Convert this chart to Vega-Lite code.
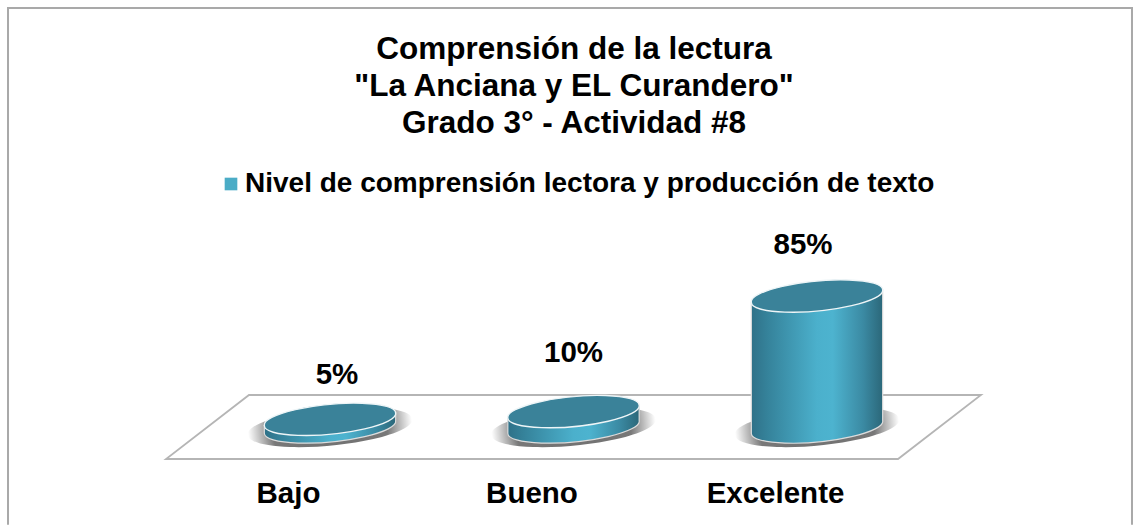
{
"$schema":"https://vega.github.io/schema/vega-lite/v6.json",
"width":1140,"height":525,"padding":0,"autosize":"none","background":"white",
"config":{"view":{"stroke":null},"font":"Liberation Sans"},
"title":{"text":["Comprensión de la lectura","\"La Anciana y EL Curandero\"","Grado 3° - Actividad #8"],"anchor":"middle","frame":"group","font":"Liberation Sans","fontSize":31.5,"fontWeight":"bold","color":"#000000","lineHeight":37,"dx":4,"dy":139,"offset":0},
"data":{"values":[
{"nivel":"Bajo","porcentaje":5,"etiqueta":"5%","serie":"Nivel de comprensión lectora y producción de texto"},
{"nivel":"Bueno","porcentaje":10,"etiqueta":"10%","serie":"Nivel de comprensión lectora y producción de texto"},
{"nivel":"Excelente","porcentaje":85,"etiqueta":"85%","serie":"Nivel de comprensión lectora y producción de texto"}
]},
"encoding":{
"x":{"field":"nivel","type":"nominal","sort":null,"scale":{"type":"point","domain":["Bajo","Bueno","Excelente"],"range":[330,817],"padding":0},
"axis":{"title":null,"domain":false,"ticks":false,"grid":false,"labelAngle":0,"labelFont":"Liberation Sans","labelFontSize":29.5,"labelFontWeight":"bold","labelColor":"#000000","labelOffset":-42,"labelPadding":0,"offset":-46}}
},
"layer":[
{"transform":[{"filter":"datum.nivel==='Bueno'"}],
 "mark":{"type":"point","filled":false,"size":17424,"stroke":"#868686","strokeWidth":2,"shape":"M-8.568,1.48 L-8.568,-6.348 L8.462,-6.348 L8.462,1.48"},
 "encoding":{"y":{"datum":0,"type":"quantitative","scale":{"domain":[-63.6,277.1],"range":[525,0],"nice":false,"zero":false},"axis":null}}},
{"transform":[{"filter":"datum.nivel==='Bueno'"}],
 "mark":{"type":"point","filled":false,"size":17424,"stroke":"#969696","strokeWidth":1.8,"shape":"M-6.174,0.485 L4.917,0.485 L6.174,-0.485 L-4.917,-0.485 Z"},
 "encoding":{"y":{"datum":0,"type":"quantitative"}}},
{"mark":{"type":"point","filled":true,"size":27225,"opacity":1,"shape":"M-0.995,0.096 A1,0.22 -5.5 1 1 0.995,-0.096 A1,0.22 -5.5 1 1 -0.995,0.096 Z",
 "fill":{"gradient":"radial","x1":0.5,"y1":0.5,"r1":0,"x2":0.5,"y2":0.5,"r2":0.5,"stops":[{"offset":0,"color":"#707070"},{"offset":0.7,"color":"#787878"},{"offset":1,"color":"#ffffff"}]}},
 "encoding":{"y":{"datum":0,"type":"quantitative"}}},
{"mark":{"type":"point","filled":true,"size":17424,"opacity":1,"stroke":"#dcdcdc","strokeWidth":1.2,
 "fill":{"gradient":"linear","x1":0,"y1":0,"x2":1,"y2":0,"stops":[{"offset":0,"color":"#2f7188"},{"offset":0.12,"color":"#35829a"},{"offset":0.5,"color":"#4bb0cc"},{"offset":0.62,"color":"#4db3cf"},{"offset":0.85,"color":"#3b8aa3"},{"offset":1,"color":"#2b6779"}]}},
 "encoding":{"y":{"field":"porcentaje","type":"quantitative"},
  "shape":{"field":"nivel","type":"nominal","legend":null,"scale":{"domain":["Bajo","Bueno","Excelente"],"range":[
   "M-0.995,0.096 L-0.995,0.213 A1,0.22 -5.5 1 0 0.995,0.021 L0.995,-0.096 Z",
   "M-0.995,0.096 L-0.995,0.329 A1,0.22 -5.5 1 0 0.995,0.137 L0.995,-0.096 Z",
   "M-0.995,0.096 L-0.995,2.081 A1,0.22 -5.5 1 0 0.995,1.889 L0.995,-0.096 Z"]}}}},
{"mark":{"type":"point","filled":true,"size":17424,"opacity":1,"fill":"#3a8299","stroke":"#eef5f7","strokeWidth":1.4,"shape":"M-0.995,0.096 A1,0.22 -5.5 1 1 0.995,-0.096 A1,0.22 -5.5 1 1 -0.995,0.096 Z"},
 "encoding":{"y":{"field":"porcentaje","type":"quantitative"}}},
{"transform":[{"filter":"datum.nivel==='Bajo'"}],
 "mark":{"type":"text","font":"Liberation Sans","fontSize":29.5,"fontWeight":"bold","color":"#000000","dx":7,"dy":-44},
 "encoding":{"y":{"field":"porcentaje","type":"quantitative"},"text":{"field":"etiqueta"}}},
{"transform":[{"filter":"datum.nivel==='Bueno'"}],
 "mark":{"type":"text","font":"Liberation Sans","fontSize":29.5,"fontWeight":"bold","color":"#000000","dx":0,"dy":-59},
 "encoding":{"y":{"field":"porcentaje","type":"quantitative"},"text":{"field":"etiqueta"}}},
{"transform":[{"filter":"datum.nivel==='Excelente'"}],
 "mark":{"type":"text","font":"Liberation Sans","fontSize":29.5,"fontWeight":"bold","color":"#000000","dx":-14,"dy":-51},
 "encoding":{"y":{"field":"porcentaje","type":"quantitative"},"text":{"field":"etiqueta"}}},
{"mark":{"type":"point","filled":true,"size":0,"opacity":1},
 "encoding":{"y":{"field":"porcentaje","type":"quantitative"},
  "fill":{"field":"serie","type":"nominal","scale":{"range":["#4bacc6"]},
  "legend":{"title":null,"orient":"none","legendX":217,"legendY":170,"symbolType":"square","symbolSize":160,"symbolStrokeWidth":0,"labelFont":"Liberation Sans","labelFontSize":28,"labelFontWeight":"bold","labelColor":"#000000","labelLimit":900,"labelOffset":0}}}}
]
}
